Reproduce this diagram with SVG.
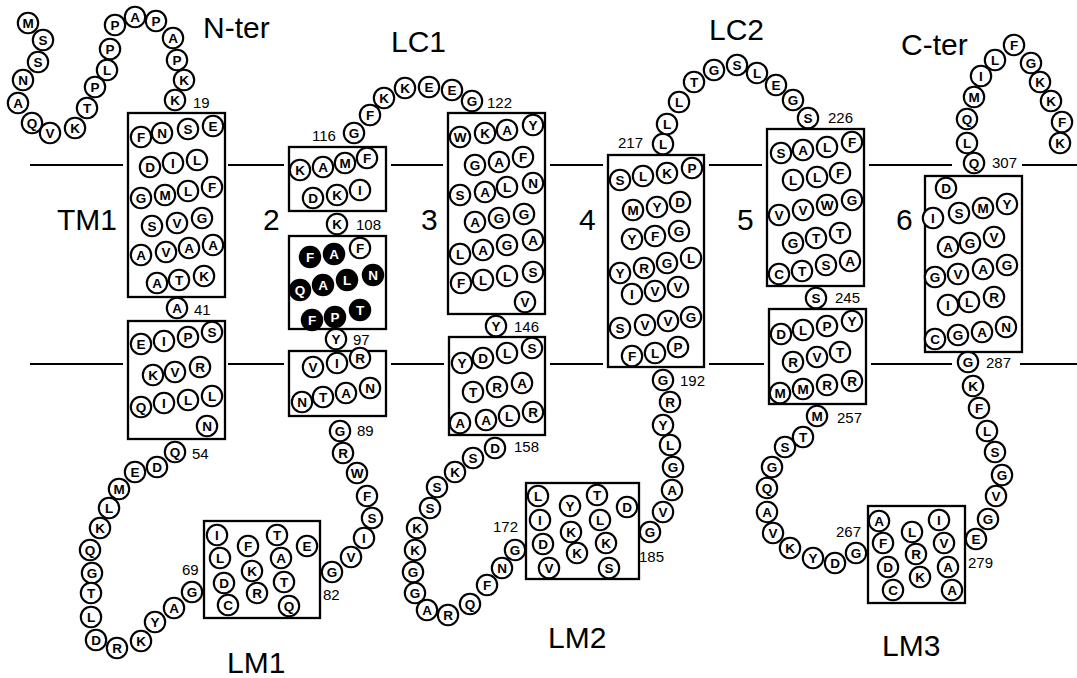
<svg xmlns="http://www.w3.org/2000/svg" width="1077" height="678" viewBox="0 0 1077 678">
<style>
.bx{fill:none;stroke:#000;stroke-width:2.3}
.mb line{stroke:#000;stroke-width:2}
circle{fill:#fff;stroke:#000;stroke-width:2.1;r:10.2px}
circle.k{fill:#000}
.aa text{font-family:"Liberation Sans",Arial,sans-serif;font-weight:bold;font-size:13.5px;text-anchor:middle;dominant-baseline:central}
.aa text.w{fill:#fff}
.n{font-family:"Liberation Sans",Arial,sans-serif;font-size:15px}
.l{font-family:"Liberation Sans",Arial,sans-serif;font-size:30px}
</style>
<g id="membrane" class="mb">
<line x1="30" y1="165" x2="123" y2="165"/><line x1="228" y1="165" x2="284" y2="165"/><line x1="391" y1="165" x2="443" y2="165"/><line x1="550" y1="165" x2="603" y2="165"/><line x1="709" y1="165" x2="762" y2="165"/><line x1="869" y1="165" x2="952" y2="165"/><line x1="1022" y1="165" x2="1077" y2="165"/>
<line x1="30" y1="364" x2="123" y2="364"/><line x1="228" y1="364" x2="284" y2="364"/><line x1="391" y1="364" x2="444" y2="364"/><line x1="550" y1="364" x2="603" y2="364"/><line x1="709" y1="364" x2="764" y2="364"/><line x1="871" y1="364" x2="952" y2="364"/><line x1="1020" y1="364" x2="1077" y2="364"/>
</g>
<g id="labels">
<text class="l" x="203" y="38">N-ter</text>
<text class="l" x="391" y="52">LC1</text>
<text class="l" x="709" y="40">LC2</text>
<text class="l" x="901" y="55">C-ter</text>
<text class="l" x="57" y="230">TM1</text>
<text class="l" x="263" y="230">2</text>
<text class="l" x="421" y="230">3</text>
<text class="l" x="579" y="230">4</text>
<text class="l" x="737" y="230">5</text>
<text class="l" x="896" y="230">6</text>
<text class="l" x="227" y="673">LM1</text>
<text class="l" x="548" y="648">LM2</text>
<text class="l" x="882" y="656">LM3</text>
</g>
<g id="numbers">
<text class="n" x="193" y="108">19</text>
<text class="n" x="194" y="315">41</text>
<text class="n" x="192" y="459">54</text>
<text class="n" x="182" y="575">69</text>
<text class="n" x="323" y="600">82</text>
<text class="n" x="357" y="436">89</text>
<text class="n" x="353" y="345">97</text>
<text class="n" x="356" y="230">108</text>
<text class="n" x="312" y="141">116</text>
<text class="n" x="487" y="108">122</text>
<text class="n" x="514" y="332">146</text>
<text class="n" x="514" y="452">158</text>
<text class="n" x="493" y="532">172</text>
<text class="n" x="639" y="562">185</text>
<text class="n" x="680" y="386">192</text>
<text class="n" x="618" y="148">217</text>
<text class="n" x="828" y="123">226</text>
<text class="n" x="835" y="303">245</text>
<text class="n" x="837" y="423">257</text>
<text class="n" x="836" y="537">267</text>
<text class="n" x="968" y="568">279</text>
<text class="n" x="986" y="368">287</text>
<text class="n" x="992" y="168">307</text>
</g>
<g id="Nter" class="aa">
<circle cx="28" cy="23"/><text x="28" y="23">M</text>
<circle cx="43" cy="40"/><text x="43" y="40">S</text>
<circle cx="38" cy="62"/><text x="38" y="62">S</text>
<circle cx="23" cy="80"/><text x="23" y="80">N</text>
<circle cx="18" cy="103"/><text x="18" y="103">A</text>
<circle cx="32" cy="123"/><text x="32" y="123">Q</text>
<circle cx="50" cy="133"/><text x="50" y="133">V</text>
<circle cx="75" cy="128"/><text x="75" y="128">K</text>
<circle cx="87" cy="108"/><text x="87" y="108">T</text>
<circle cx="95" cy="87"/><text x="95" y="87">P</text>
<circle cx="107" cy="70"/><text x="107" y="70">L</text>
<circle cx="110" cy="49"/><text x="110" y="49">P</text>
<circle cx="115" cy="25"/><text x="115" y="25">P</text>
<circle cx="135" cy="17"/><text x="135" y="17">A</text>
<circle cx="156" cy="21"/><text x="156" y="21">P</text>
<circle cx="173" cy="38"/><text x="173" y="38">A</text>
<circle cx="177" cy="60"/><text x="177" y="60">P</text>
<circle cx="184" cy="80"/><text x="184" y="80">K</text>
<circle cx="175" cy="100"/><text x="175" y="100">K</text>
</g>
<g id="TM1" class="aa">
<rect class="bx" x="128" y="113" width="97" height="184"/>
<circle cx="141" cy="137"/><text x="141" y="137">F</text>
<circle cx="162" cy="133"/><text x="162" y="133">N</text>
<circle cx="188" cy="129"/><text x="188" y="129">S</text>
<circle cx="213" cy="126"/><text x="213" y="126">E</text>
<circle cx="150" cy="167"/><text x="150" y="167">D</text>
<circle cx="173" cy="163"/><text x="173" y="163">I</text>
<circle cx="197" cy="160"/><text x="197" y="160">L</text>
<circle cx="141" cy="198"/><text x="141" y="198">G</text>
<circle cx="165" cy="195"/><text x="165" y="195">M</text>
<circle cx="188" cy="191"/><text x="188" y="191">L</text>
<circle cx="212" cy="187"/><text x="212" y="187">F</text>
<circle cx="152" cy="226"/><text x="152" y="226">S</text>
<circle cx="177" cy="223"/><text x="177" y="223">V</text>
<circle cx="202" cy="218"/><text x="202" y="218">G</text>
<circle cx="141" cy="255"/><text x="141" y="255">A</text>
<circle cx="166" cy="252"/><text x="166" y="252">V</text>
<circle cx="189" cy="248"/><text x="189" y="248">A</text>
<circle cx="213" cy="245"/><text x="213" y="245">A</text>
<circle cx="157" cy="283"/><text x="157" y="283">A</text>
<circle cx="179" cy="280"/><text x="179" y="280">T</text>
<circle cx="204" cy="276"/><text x="204" y="276">K</text>
<circle cx="177" cy="308"/><text x="177" y="308">A</text>
<rect class="bx" x="128" y="321" width="97" height="118"/>
<circle cx="141" cy="344"/><text x="141" y="344">E</text>
<circle cx="164" cy="341"/><text x="164" y="341">I</text>
<circle cx="188" cy="337"/><text x="188" y="337">P</text>
<circle cx="212" cy="332"/><text x="212" y="332">S</text>
<circle cx="153" cy="375"/><text x="153" y="375">K</text>
<circle cx="175" cy="372"/><text x="175" y="372">V</text>
<circle cx="200" cy="367"/><text x="200" y="367">R</text>
<circle cx="141" cy="407"/><text x="141" y="407">Q</text>
<circle cx="164" cy="403"/><text x="164" y="403">I</text>
<circle cx="188" cy="400"/><text x="188" y="400">L</text>
<circle cx="212" cy="396"/><text x="212" y="396">L</text>
<circle cx="207" cy="426"/><text x="207" y="426">N</text>
</g>
<g id="LM1" class="aa">
<circle cx="175" cy="452"/><text x="175" y="452">Q</text>
<circle cx="157" cy="467"/><text x="157" y="467">D</text>
<circle cx="135" cy="472"/><text x="135" y="472">E</text>
<circle cx="119" cy="489"/><text x="119" y="489">M</text>
<circle cx="109" cy="508"/><text x="109" y="508">L</text>
<circle cx="100" cy="528"/><text x="100" y="528">K</text>
<circle cx="90" cy="550"/><text x="90" y="550">Q</text>
<circle cx="92" cy="573"/><text x="92" y="573">G</text>
<circle cx="91" cy="593"/><text x="91" y="593">T</text>
<circle cx="91" cy="617"/><text x="91" y="617">L</text>
<circle cx="96" cy="640"/><text x="96" y="640">D</text>
<circle cx="117" cy="648"/><text x="117" y="648">R</text>
<circle cx="141" cy="641"/><text x="141" y="641">K</text>
<circle cx="155" cy="622"/><text x="155" y="622">Y</text>
<circle cx="174" cy="608"/><text x="174" y="608">A</text>
<circle cx="192" cy="592"/><text x="192" y="592">G</text>
<rect class="bx" x="204" y="521" width="116" height="97"/>
<circle cx="217" cy="535"/><text x="217" y="535">I</text>
<circle cx="220" cy="558"/><text x="220" y="558">L</text>
<circle cx="224" cy="583"/><text x="224" y="583">D</text>
<circle cx="228" cy="605"/><text x="228" y="605">C</text>
<circle cx="248" cy="546"/><text x="248" y="546">F</text>
<circle cx="252" cy="571"/><text x="252" y="571">K</text>
<circle cx="257" cy="593"/><text x="257" y="593">R</text>
<circle cx="277" cy="535"/><text x="277" y="535">T</text>
<circle cx="281" cy="558"/><text x="281" y="558">A</text>
<circle cx="284" cy="582"/><text x="284" y="582">T</text>
<circle cx="289" cy="606"/><text x="289" y="606">Q</text>
<circle cx="307" cy="546"/><text x="307" y="546">E</text>
<circle cx="332" cy="572"/><text x="332" y="572">G</text>
<circle cx="351" cy="557"/><text x="351" y="557">V</text>
<circle cx="364" cy="538"/><text x="364" y="538">I</text>
<circle cx="372" cy="518"/><text x="372" y="518">S</text>
<circle cx="367" cy="496"/><text x="367" y="496">F</text>
<circle cx="357" cy="473"/><text x="357" y="473">W</text>
<circle cx="343" cy="453"/><text x="343" y="453">R</text>
<circle cx="340" cy="431"/><text x="340" y="431">G</text>
</g>
<g id="TM2" class="aa">
<rect class="bx" x="289" y="351" width="97" height="65"/>
<circle cx="313" cy="367"/><text x="313" y="367">V</text>
<circle cx="337" cy="363"/><text x="337" y="363">I</text>
<circle cx="360" cy="358"/><text x="360" y="358">R</text>
<circle cx="302" cy="402"/><text x="302" y="402">N</text>
<circle cx="323" cy="397"/><text x="323" y="397">T</text>
<circle cx="346" cy="393"/><text x="346" y="393">A</text>
<circle cx="370" cy="388"/><text x="370" y="388">N</text>
<circle cx="336" cy="339"/><text x="336" y="339">Y</text>
<rect class="bx" x="289" y="236" width="97" height="93"/>
<circle class="k" cx="310" cy="257"/><text class="w" x="310" y="257">F</text>
<circle class="k" cx="334" cy="254"/><text class="w" x="334" y="254">A</text>
<circle cx="360" cy="248"/><text x="360" y="248">F</text>
<circle class="k" cx="300" cy="290"/><text class="w" x="300" y="290">Q</text>
<circle class="k" cx="323" cy="285"/><text class="w" x="323" y="285">A</text>
<circle class="k" cx="347" cy="280"/><text class="w" x="347" y="280">L</text>
<circle class="k" cx="373" cy="275"/><text class="w" x="373" y="275">N</text>
<circle class="k" cx="312" cy="320"/><text class="w" x="312" y="320">F</text>
<circle class="k" cx="335" cy="317"/><text class="w" x="335" y="317">P</text>
<circle class="k" cx="360" cy="310"/><text class="w" x="360" y="310">T</text>
<circle cx="337" cy="224"/><text x="337" y="224">K</text>
<rect class="bx" x="289" y="147" width="97" height="64"/>
<circle cx="300" cy="170"/><text x="300" y="170">K</text>
<circle cx="323" cy="167"/><text x="323" y="167">A</text>
<circle cx="345" cy="163"/><text x="345" y="163">M</text>
<circle cx="367" cy="158"/><text x="367" y="158">F</text>
<circle cx="313" cy="198"/><text x="313" y="198">D</text>
<circle cx="337" cy="195"/><text x="337" y="195">K</text>
<circle cx="360" cy="190"/><text x="360" y="190">I</text>
</g>
<g id="LC1" class="aa">
<circle cx="354" cy="133"/><text x="354" y="133">G</text>
<circle cx="370" cy="115"/><text x="370" y="115">F</text>
<circle cx="384" cy="98"/><text x="384" y="98">K</text>
<circle cx="405" cy="88"/><text x="405" y="88">K</text>
<circle cx="429" cy="87"/><text x="429" y="87">E</text>
<circle cx="452" cy="90"/><text x="452" y="90">E</text>
<circle cx="472" cy="101"/><text x="472" y="101">G</text>
</g>
<g id="TM3" class="aa">
<rect class="bx" x="448" y="113" width="97" height="201"/>
<circle cx="460" cy="137"/><text x="460" y="137">W</text>
<circle cx="485" cy="133"/><text x="485" y="133">K</text>
<circle cx="507" cy="130"/><text x="507" y="130">A</text>
<circle cx="533" cy="125"/><text x="533" y="125">Y</text>
<circle cx="475" cy="165"/><text x="475" y="165">G</text>
<circle cx="499" cy="162"/><text x="499" y="162">A</text>
<circle cx="523" cy="157"/><text x="523" y="157">F</text>
<circle cx="460" cy="195"/><text x="460" y="195">S</text>
<circle cx="485" cy="192"/><text x="485" y="192">A</text>
<circle cx="507" cy="187"/><text x="507" y="187">L</text>
<circle cx="533" cy="183"/><text x="533" y="183">N</text>
<circle cx="475" cy="222"/><text x="475" y="222">A</text>
<circle cx="499" cy="218"/><text x="499" y="218">G</text>
<circle cx="524" cy="214"/><text x="524" y="214">G</text>
<circle cx="460" cy="254"/><text x="460" y="254">L</text>
<circle cx="483" cy="250"/><text x="483" y="250">A</text>
<circle cx="507" cy="245"/><text x="507" y="245">G</text>
<circle cx="533" cy="240"/><text x="533" y="240">A</text>
<circle cx="461" cy="283"/><text x="461" y="283">F</text>
<circle cx="483" cy="280"/><text x="483" y="280">L</text>
<circle cx="507" cy="276"/><text x="507" y="276">L</text>
<circle cx="533" cy="272"/><text x="533" y="272">S</text>
<circle cx="525" cy="302"/><text x="525" y="302">V</text>
<circle cx="496" cy="326"/><text x="496" y="326">Y</text>
<rect class="bx" x="449" y="337" width="96" height="98"/>
<circle cx="462" cy="363"/><text x="462" y="363">Y</text>
<circle cx="483" cy="358"/><text x="483" y="358">D</text>
<circle cx="507" cy="353"/><text x="507" y="353">L</text>
<circle cx="532" cy="348"/><text x="532" y="348">S</text>
<circle cx="473" cy="392"/><text x="473" y="392">T</text>
<circle cx="497" cy="387"/><text x="497" y="387">R</text>
<circle cx="522" cy="383"/><text x="522" y="383">A</text>
<circle cx="460" cy="423"/><text x="460" y="423">A</text>
<circle cx="486" cy="420"/><text x="486" y="420">A</text>
<circle cx="509" cy="416"/><text x="509" y="416">L</text>
<circle cx="533" cy="412"/><text x="533" y="412">R</text>
</g>
<g id="LM2" class="aa">
<circle cx="495" cy="448"/><text x="495" y="448">D</text>
<circle cx="473" cy="458"/><text x="473" y="458">S</text>
<circle cx="455" cy="472"/><text x="455" y="472">K</text>
<circle cx="437" cy="487"/><text x="437" y="487">S</text>
<circle cx="430" cy="508"/><text x="430" y="508">S</text>
<circle cx="417" cy="528"/><text x="417" y="528">K</text>
<circle cx="415" cy="550"/><text x="415" y="550">K</text>
<circle cx="413" cy="572"/><text x="413" y="572">G</text>
<circle cx="415" cy="593"/><text x="415" y="593">G</text>
<circle cx="427" cy="610"/><text x="427" y="610">A</text>
<circle cx="448" cy="615"/><text x="448" y="615">R</text>
<circle cx="470" cy="604"/><text x="470" y="604">Q</text>
<circle cx="487" cy="585"/><text x="487" y="585">F</text>
<circle cx="502" cy="568"/><text x="502" y="568">N</text>
<circle cx="515" cy="550"/><text x="515" y="550">G</text>
<rect class="bx" x="526" y="483" width="113" height="96"/>
<circle cx="538" cy="496"/><text x="538" y="496">L</text>
<circle cx="540" cy="520"/><text x="540" y="520">I</text>
<circle cx="543" cy="544"/><text x="543" y="544">D</text>
<circle cx="549" cy="568"/><text x="549" y="568">V</text>
<circle cx="570" cy="506"/><text x="570" y="506">Y</text>
<circle cx="571" cy="532"/><text x="571" y="532">K</text>
<circle cx="577" cy="553"/><text x="577" y="553">K</text>
<circle cx="597" cy="495"/><text x="597" y="495">T</text>
<circle cx="600" cy="520"/><text x="600" y="520">L</text>
<circle cx="606" cy="543"/><text x="606" y="543">K</text>
<circle cx="609" cy="568"/><text x="609" y="568">S</text>
<circle cx="627" cy="507"/><text x="627" y="507">D</text>
<circle cx="650" cy="532"/><text x="650" y="532">G</text>
<circle cx="663" cy="512"/><text x="663" y="512">V</text>
<circle cx="672" cy="490"/><text x="672" y="490">A</text>
<circle cx="673" cy="467"/><text x="673" y="467">G</text>
<circle cx="670" cy="445"/><text x="670" y="445">L</text>
<circle cx="663" cy="425"/><text x="663" y="425">Y</text>
<circle cx="670" cy="402"/><text x="670" y="402">R</text>
<circle cx="663" cy="380"/><text x="663" y="380">G</text>
</g>
<g id="TM4" class="aa">
<rect class="bx" x="608" y="155" width="96" height="212"/>
<circle cx="620" cy="180"/><text x="620" y="180">S</text>
<circle cx="643" cy="176"/><text x="643" y="176">L</text>
<circle cx="667" cy="173"/><text x="667" y="173">K</text>
<circle cx="692" cy="168"/><text x="692" y="168">P</text>
<circle cx="633" cy="210"/><text x="633" y="210">M</text>
<circle cx="657" cy="207"/><text x="657" y="207">Y</text>
<circle cx="680" cy="202"/><text x="680" y="202">D</text>
<circle cx="632" cy="239"/><text x="632" y="239">Y</text>
<circle cx="655" cy="236"/><text x="655" y="236">F</text>
<circle cx="679" cy="231"/><text x="679" y="231">G</text>
<circle cx="620" cy="273"/><text x="620" y="273">Y</text>
<circle cx="644" cy="268"/><text x="644" y="268">R</text>
<circle cx="667" cy="263"/><text x="667" y="263">G</text>
<circle cx="691" cy="258"/><text x="691" y="258">L</text>
<circle cx="632" cy="294"/><text x="632" y="294">I</text>
<circle cx="655" cy="291"/><text x="655" y="291">V</text>
<circle cx="678" cy="287"/><text x="678" y="287">V</text>
<circle cx="620" cy="328"/><text x="620" y="328">S</text>
<circle cx="645" cy="325"/><text x="645" y="325">V</text>
<circle cx="668" cy="321"/><text x="668" y="321">V</text>
<circle cx="691" cy="317"/><text x="691" y="317">G</text>
<circle cx="632" cy="356"/><text x="632" y="356">F</text>
<circle cx="655" cy="353"/><text x="655" y="353">L</text>
<circle cx="678" cy="347"/><text x="678" y="347">P</text>
</g>
<g id="LC2" class="aa">
<circle cx="663" cy="144"/><text x="663" y="144">L</text>
<circle cx="667" cy="124"/><text x="667" y="124">L</text>
<circle cx="679" cy="102"/><text x="679" y="102">L</text>
<circle cx="694" cy="82"/><text x="694" y="82">T</text>
<circle cx="714" cy="70"/><text x="714" y="70">G</text>
<circle cx="737" cy="65"/><text x="737" y="65">S</text>
<circle cx="757" cy="73"/><text x="757" y="73">L</text>
<circle cx="776" cy="85"/><text x="776" y="85">E</text>
<circle cx="793" cy="100"/><text x="793" y="100">G</text>
<circle cx="808" cy="118"/><text x="808" y="118">S</text>
</g>
<g id="TM5" class="aa">
<rect class="bx" x="767" y="129" width="97" height="157"/>
<circle cx="781" cy="153"/><text x="781" y="153">S</text>
<circle cx="803" cy="150"/><text x="803" y="150">A</text>
<circle cx="827" cy="147"/><text x="827" y="147">L</text>
<circle cx="852" cy="142"/><text x="852" y="142">F</text>
<circle cx="793" cy="180"/><text x="793" y="180">L</text>
<circle cx="817" cy="177"/><text x="817" y="177">L</text>
<circle cx="840" cy="173"/><text x="840" y="173">F</text>
<circle cx="779" cy="215"/><text x="779" y="215">V</text>
<circle cx="803" cy="210"/><text x="803" y="210">V</text>
<circle cx="827" cy="205"/><text x="827" y="205">W</text>
<circle cx="852" cy="200"/><text x="852" y="200">G</text>
<circle cx="793" cy="243"/><text x="793" y="243">G</text>
<circle cx="816" cy="238"/><text x="816" y="238">T</text>
<circle cx="840" cy="233"/><text x="840" y="233">T</text>
<circle cx="779" cy="274"/><text x="779" y="274">C</text>
<circle cx="802" cy="271"/><text x="802" y="271">T</text>
<circle cx="826" cy="265"/><text x="826" y="265">S</text>
<circle cx="850" cy="261"/><text x="850" y="261">A</text>
<circle cx="816" cy="298"/><text x="816" y="298">S</text>
<rect class="bx" x="769" y="309" width="97" height="95"/>
<circle cx="781" cy="334"/><text x="781" y="334">D</text>
<circle cx="803" cy="330"/><text x="803" y="330">L</text>
<circle cx="827" cy="326"/><text x="827" y="326">P</text>
<circle cx="852" cy="321"/><text x="852" y="321">Y</text>
<circle cx="793" cy="362"/><text x="793" y="362">R</text>
<circle cx="817" cy="357"/><text x="817" y="357">V</text>
<circle cx="840" cy="352"/><text x="840" y="352">T</text>
<circle cx="780" cy="393"/><text x="780" y="393">M</text>
<circle cx="803" cy="389"/><text x="803" y="389">M</text>
<circle cx="827" cy="385"/><text x="827" y="385">R</text>
<circle cx="852" cy="381"/><text x="852" y="381">R</text>
</g>
<g id="LM3" class="aa">
<circle cx="817" cy="416"/><text x="817" y="416">M</text>
<circle cx="803" cy="437"/><text x="803" y="437">T</text>
<circle cx="785" cy="447"/><text x="785" y="447">S</text>
<circle cx="772" cy="467"/><text x="772" y="467">G</text>
<circle cx="767" cy="488"/><text x="767" y="488">Q</text>
<circle cx="767" cy="512"/><text x="767" y="512">A</text>
<circle cx="773" cy="533"/><text x="773" y="533">V</text>
<circle cx="790" cy="548"/><text x="790" y="548">K</text>
<circle cx="813" cy="558"/><text x="813" y="558">Y</text>
<circle cx="835" cy="563"/><text x="835" y="563">D</text>
<circle cx="856" cy="553"/><text x="856" y="553">G</text>
<rect class="bx" x="868" y="506" width="97" height="97"/>
<circle cx="879" cy="521"/><text x="879" y="521">A</text>
<circle cx="883" cy="543"/><text x="883" y="543">F</text>
<circle cx="888" cy="567"/><text x="888" y="567">D</text>
<circle cx="893" cy="590"/><text x="893" y="590">C</text>
<circle cx="912" cy="532"/><text x="912" y="532">L</text>
<circle cx="916" cy="554"/><text x="916" y="554">R</text>
<circle cx="920" cy="577"/><text x="920" y="577">K</text>
<circle cx="939" cy="520"/><text x="939" y="520">I</text>
<circle cx="944" cy="543"/><text x="944" y="543">V</text>
<circle cx="948" cy="567"/><text x="948" y="567">A</text>
<circle cx="952" cy="590"/><text x="952" y="590">A</text>
<circle cx="976" cy="539"/><text x="976" y="539">E</text>
<circle cx="988" cy="519"/><text x="988" y="519">G</text>
<circle cx="996" cy="496"/><text x="996" y="496">V</text>
<circle cx="1002" cy="475"/><text x="1002" y="475">G</text>
<circle cx="995" cy="452"/><text x="995" y="452">S</text>
<circle cx="987" cy="431"/><text x="987" y="431">L</text>
<circle cx="979" cy="408"/><text x="979" y="408">F</text>
<circle cx="973" cy="386"/><text x="973" y="386">K</text>
<circle cx="968" cy="362"/><text x="968" y="362">G</text>
</g>
<g id="TM6" class="aa">
<rect class="bx" x="925" y="176" width="97" height="176"/>
<circle cx="946" cy="188"/><text x="946" y="188">D</text>
<circle cx="933" cy="218"/><text x="933" y="218">I</text>
<circle cx="959" cy="213"/><text x="959" y="213">S</text>
<circle cx="983" cy="208"/><text x="983" y="208">M</text>
<circle cx="1007" cy="204"/><text x="1007" y="204">Y</text>
<circle cx="948" cy="247"/><text x="948" y="247">A</text>
<circle cx="970" cy="243"/><text x="970" y="243">G</text>
<circle cx="994" cy="237"/><text x="994" y="237">V</text>
<circle cx="935" cy="277"/><text x="935" y="277">G</text>
<circle cx="958" cy="274"/><text x="958" y="274">V</text>
<circle cx="983" cy="269"/><text x="983" y="269">A</text>
<circle cx="1007" cy="265"/><text x="1007" y="265">G</text>
<circle cx="948" cy="305"/><text x="948" y="305">I</text>
<circle cx="969" cy="302"/><text x="969" y="302">L</text>
<circle cx="994" cy="297"/><text x="994" y="297">R</text>
<circle cx="935" cy="339"/><text x="935" y="339">C</text>
<circle cx="958" cy="335"/><text x="958" y="335">G</text>
<circle cx="982" cy="332"/><text x="982" y="332">A</text>
<circle cx="1006" cy="327"/><text x="1006" y="327">N</text>
</g>
<g id="Cter" class="aa">
<circle cx="974" cy="163"/><text x="974" y="163">Q</text>
<circle cx="967" cy="143"/><text x="967" y="143">L</text>
<circle cx="967" cy="119"/><text x="967" y="119">Q</text>
<circle cx="974" cy="97"/><text x="974" y="97">M</text>
<circle cx="981" cy="76"/><text x="981" y="76">I</text>
<circle cx="995" cy="60"/><text x="995" y="60">L</text>
<circle cx="1014" cy="45"/><text x="1014" y="45">F</text>
<circle cx="1031" cy="63"/><text x="1031" y="63">G</text>
<circle cx="1040" cy="82"/><text x="1040" y="82">K</text>
<circle cx="1051" cy="101"/><text x="1051" y="101">K</text>
<circle cx="1062" cy="122"/><text x="1062" y="122">F</text>
<circle cx="1060" cy="143"/><text x="1060" y="143">K</text>
</g>
</svg>
